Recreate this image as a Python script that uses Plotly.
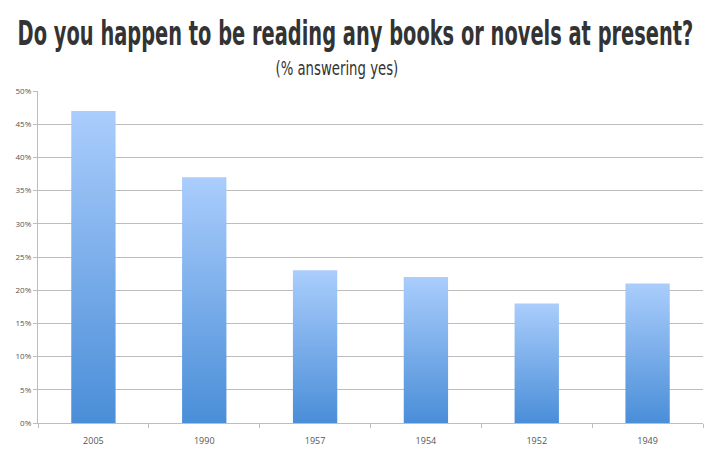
import plotly.graph_objects as go

years = ["2005", "1990", "1957", "1954", "1952", "1949"]
pct_yes = [47, 37, 23, 22, 18, 21]
y_ticks = [0, 5, 10, 15, 20, 25, 30, 35, 40, 45, 50]
y_tick_labels = [f"{v}%" for v in y_ticks]

title_text = "Do you happen to be reading any books or novels at present?"
subtitle_text = "(% answering yes)"

bar_half = 0.2
top_color = "#aacdfc"
bottom_color = "#4a8ed8"

fig = go.Figure()
for i, (yr, v) in enumerate(zip(years, pct_yes)):
    fig.add_trace(go.Scatter(
        x=[i - bar_half, i + bar_half, i + bar_half, i - bar_half, i - bar_half],
        y=[0, 0, v, v, 0],
        mode="lines",
        line=dict(width=0),
        fill="toself",
        fillgradient=dict(type="vertical",
                          colorscale=[[0, bottom_color], [1, top_color]]),
        name=yr,
        hoverinfo="text",
        text=f"{yr}: {v}%",
        showlegend=False,
    ))

grid_col = "#bdbdbd"
L, R, T, B = 38, 7, 91, 28
W, H = 710, 454
pw = W - L - R

fig.update_layout(
    width=W, height=H,
    margin=dict(l=L, r=R, t=T, b=B),
    paper_bgcolor="white", plot_bgcolor="white",
    annotations=[
        dict(text=f"<b>{title_text}</b>", xref="paper", yref="paper",
             x=(355 - L) / pw, y=1, xanchor="center", yanchor="bottom", yshift=36,
             showarrow=False,
             font=dict(family="DejaVu Sans, sans-serif", size=33, color="#333333")),
        dict(text=subtitle_text, xref="paper", yref="paper",
             x=(336.5 - L) / pw, y=1, xanchor="center", yanchor="bottom", yshift=10,
             showarrow=False,
             font=dict(family="DejaVu Sans, sans-serif", size=19, color="#333333")),
    ],
    xaxis=dict(
        range=[-0.5, len(years) - 0.5],
        tickvals=list(range(len(years))),
        ticktext=years,
        ticks="outside", ticklen=9, tickcolor="rgba(0,0,0,0)",
        showgrid=False, zeroline=False,
        showline=True, linecolor=grid_col, linewidth=1.3,
        tickfont=dict(family="Open Sans, DejaVu Sans, sans-serif", size=9, color="#555"),
        minor=dict(ticks="outside", tick0=-0.5, dtick=1, ticklen=4,
                   tickcolor=grid_col, tickwidth=1, showgrid=False),
        fixedrange=True,
    ),
    yaxis=dict(
        range=[0, 50],
        tickvals=y_ticks,
        ticktext=y_tick_labels,
        ticks="outside", ticklen=4, tickcolor=grid_col,
        showgrid=True, gridcolor=grid_col, gridwidth=1.3,
        zeroline=False,
        showline=True, linecolor=grid_col, linewidth=1.3,
        tickfont=dict(family="Open Sans, DejaVu Sans, sans-serif", size=8, color="#555"),
        fixedrange=True,
    ),
)

post_js = """
document.body.style.margin = '0';
var gd = document.getElementById('{plot_id}');
function squeezeTitles() {
  var targets = [676, 123];
  var texts = gd.querySelectorAll('.annotation-text');
  texts.forEach(function (t, i) {
    if (i >= targets.length) return;
    t.removeAttribute('transform');
    var b = t.getBBox();
    if (!b.width) return;
    var s = targets[i] / b.width;
    var cx = b.x + b.width / 2;
    t.setAttribute('transform', 'translate(' + cx + ',0) scale(' + s + ',1) translate(' + (-cx) + ',0)');
  });
}
squeezeTitles();
gd.on('plotly_afterplot', squeezeTitles);
"""

fig.write_html("out.html", post_script=post_js, config={"displayModeBar": False})
